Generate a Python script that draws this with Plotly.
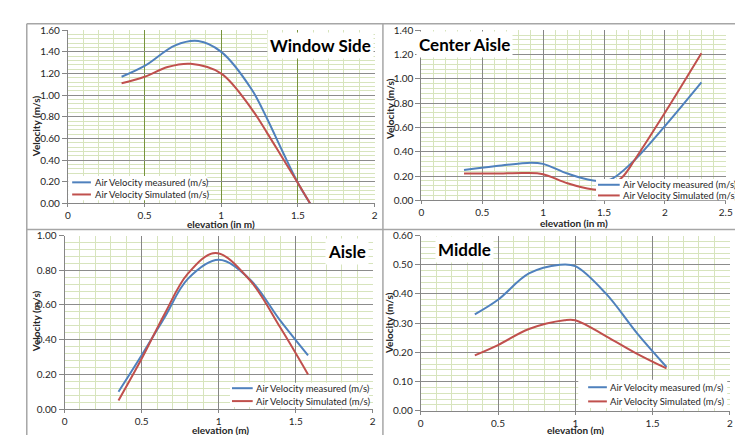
import plotly.graph_objects as go

W, H = 743, 435

# ---------------- data ----------------
ws_x_meas = [0.35, 0.5, 0.7, 0.85, 1.0, 1.2, 1.3, 1.4, 1.5, 1.58]
ws_meas = [1.17, 1.27, 1.46, 1.50, 1.40, 1.05, 0.78, 0.48, 0.19, 0.00]
ws_x_sim = [0.35, 0.5, 0.65, 0.8, 1.0, 1.2, 1.3, 1.4, 1.5, 1.58]
ws_sim = [1.11, 1.17, 1.26, 1.29, 1.20, 0.87, 0.65, 0.42, 0.19, 0.00]

ca_x_meas = [0.35, 0.6, 0.9, 1.0, 1.2, 1.4, 1.55, 1.75, 2.0, 2.3]
ca_meas = [0.25, 0.28, 0.31, 0.30, 0.22, 0.165, 0.17, 0.33, 0.61, 0.97]
ca_x_sim = [0.35, 0.6, 0.85, 1.0, 1.2, 1.4, 1.5, 1.65, 1.75, 2.0, 2.3]
ca_sim = [0.22, 0.22, 0.225, 0.215, 0.14, 0.09, 0.09, 0.19, 0.33, 0.72, 1.21]

a_x_meas = [0.35, 0.5, 0.65, 0.8, 1.0, 1.2, 1.4, 1.58]
a_meas = [0.10, 0.31, 0.53, 0.75, 0.86, 0.75, 0.51, 0.31]
a_x_sim = [0.35, 0.5, 0.65, 0.8, 0.98, 1.2, 1.4, 1.58]
a_sim = [0.05, 0.29, 0.55, 0.78, 0.90, 0.745, 0.47, 0.20]

m_x_meas = [0.35, 0.5, 0.7, 0.9, 1.0, 1.2, 1.4, 1.59]
m_meas = [0.33, 0.38, 0.47, 0.50, 0.495, 0.40, 0.265, 0.15]
m_x_sim = [0.35, 0.5, 0.7, 0.93, 1.0, 1.2, 1.4, 1.59]
m_sim = [0.19, 0.225, 0.28, 0.31, 0.31, 0.255, 0.195, 0.145]

series_names = ["Air Velocity measured (m/s)", "Air Velocity Simulated (m/s)"]
panel_titles = ["Window Side", "Center Aisle", "Aisle", "Middle"]
x_titles = ["elevation (in m)", "elevation (in m)", "elevation (m)", "elevation (m)"]
y_title = "Velocity (m/s)"

BLUE = "#4F81BD"
RED = "#C0504D"
FONT = "Lato"


def px(x):
    return x / W


def py(y):
    return 1 - y / H


panels = [
    dict(xs=(ws_x_meas, ws_x_sim), ys=(ws_meas, ws_sim), xd=(57.7, 368.5), yd=(15.7, 194.3),
         xr=2, yr=1.6, ydt=0.2, vgrid="#77933C",
         title_pos=(314, 31), xt_pos=(213, 215.5), yt_pos=(25, 115),
         leg=dict(box=(58, 166, 199, 191), rows=(172.5, 185), samp=(62, 81), tx=83)),
    dict(xs=(ca_x_meas, ca_x_sim), ys=(ca_meas, ca_sim), xd=(416, 724.5), yd=(15.7, 191),
         xr=2.5, yr=1.4, ydt=0.2, vgrid="#868686",
         title_pos=(460, 30), xt_pos=(571, 214.5), yt_pos=(383.7, 97.5),
         leg=dict(box=(593, 169, 734, 191), rows=(175, 186), samp=(595, 617), tx=618)),
    dict(xs=(a_x_meas, a_x_sim), ys=(a_meas, a_sim), xd=(54.3, 366.7), yd=(227.3, 406.3),
         xr=2, yr=1.0, ydt=0.2, vgrid="#868686",
         title_pos=(340.5, 244), xt_pos=(212.5, 428), yt_pos=(25, 316),
         leg=dict(box=(222, 379, 363, 404), rows=(384.7, 398), samp=(224, 245), tx=246)),
    dict(xs=(m_x_meas, m_x_sim), ys=(m_meas, m_sim), xd=(415.3, 728.7), yd=(227.3, 408),
         xr=2, yr=0.6, ydt=0.1, vgrid="#868686",
         title_pos=(459.5, 242), xt_pos=(572.5, 428), yt_pos=(383.7, 318),
         leg=dict(box=(575, 376, 726, 405), rows=(383.7, 398.3), samp=(585, 604), tx=605)),
]

fig = go.Figure()
layout = dict(width=W, height=H, margin=dict(l=0, r=0, t=0, b=0),
              paper_bgcolor="white", plot_bgcolor="white", showlegend=False,
              font=dict(family=FONT, size=10, color="#262626"))
shapes = []
annotations = []

for i, p in enumerate(panels):
    n = "" if i == 0 else str(i + 1)
    xa, ya = "x" + n, "y" + n
    for k, col in enumerate([BLUE, RED]):
        fig.add_trace(go.Scatter(x=p["xs"][k], y=p["ys"][k], mode="lines", name=series_names[k],
                                 line=dict(color=col, width=2, shape="spline", smoothing=1.0),
                                 xaxis=xa, yaxis=ya, hoverinfo="skip"))
    layout["xaxis" + n] = dict(
        domain=[px(p["xd"][0]), px(p["xd"][1])], range=[0, p["xr"]], anchor=ya,
        dtick=0.5, tick0=0, showgrid=True, gridcolor=p["vgrid"], gridwidth=1,
        zeroline=False, showline=True, linecolor="#868686", linewidth=1,
        ticks="outside", ticklen=3, tickcolor="#868686",
        tickfont=dict(family=FONT, size=10, color="#262626"),
        minor=dict(dtick=0.1, tick0=0, showgrid=True, gridcolor="#D7E4BD", gridwidth=1, ticks=""),
        fixedrange=True)
    layout["yaxis" + n] = dict(
        domain=[py(p["yd"][1]), py(p["yd"][0])], range=[0, p["yr"]], anchor=xa,
        dtick=p["ydt"], tick0=0, tickformat=".2f", showgrid=True, gridcolor="#8C8C8C", gridwidth=1,
        zeroline=False, showline=True, linecolor="#868686", linewidth=1,
        ticks="outside", ticklen=5, tickcolor="#868686",
        tickfont=dict(family=FONT, size=10, color="#262626"),
        minor=dict(dtick=p["ydt"] / 5, tick0=0, showgrid=True, gridcolor="#D7E4BD", gridwidth=1, ticks=""),
        fixedrange=True)

    # panel title
    annotations.append(dict(text="<b>%s</b>" % panel_titles[i], xref="paper", yref="paper",
                            x=px(p["title_pos"][0]), y=py(p["title_pos"][1]),
                            xanchor="center", yanchor="middle", showarrow=False,
                            bgcolor="white", borderpad=2,
                            font=dict(family=FONT, size=17, color="black")))
    # axis titles
    annotations.append(dict(text="<b>%s</b>" % x_titles[i], xref="paper", yref="paper",
                            x=px(p["xt_pos"][0]), y=py(p["xt_pos"][1]),
                            xanchor="center", yanchor="middle", showarrow=False,
                            font=dict(family=FONT, size=10, color="#262626")))
    annotations.append(dict(text="<b>%s</b>" % y_title, xref="paper", yref="paper",
                            x=px(p["yt_pos"][0]), y=py(p["yt_pos"][1]), textangle=-90,
                            xanchor="center", yanchor="middle", showarrow=False,
                            font=dict(family=FONT, size=10, color="#262626")))
    # legend
    lg = p["leg"]
    b = lg["box"]
    shapes.append(dict(type="rect", xref="paper", yref="paper", layer="above",
                       x0=px(b[0]), x1=px(b[2]), y0=py(b[3]), y1=py(b[1]),
                       fillcolor="white", line=dict(width=0)))
    for k, col in enumerate([BLUE, RED]):
        yy = lg["rows"][k]
        shapes.append(dict(type="line", xref="paper", yref="paper", layer="above",
                           x0=px(lg["samp"][0]), x1=px(lg["samp"][1]), y0=py(yy), y1=py(yy),
                           line=dict(color=col, width=2)))
        annotations.append(dict(text=series_names[k], xref="paper", yref="paper",
                                x=px(lg["tx"]), y=py(yy), xanchor="left", yanchor="middle",
                                showarrow=False,
                                font=dict(family=FONT, size=9.5, color="#262626")))

# chart-area borders
BC = "#A6A6A6"
for xv in (16, 377, 738):
    shapes.append(dict(type="line", xref="paper", yref="paper", x0=px(xv), x1=px(xv),
                       y0=py(9), y1=py(435), line=dict(color=BC, width=1.5)))
for yv in (9, 221):
    shapes.append(dict(type="line", xref="paper", yref="paper", x0=px(16), x1=px(738),
                       y0=py(yv), y1=py(yv), line=dict(color=BC, width=1.5)))

layout["shapes"] = shapes
layout["annotations"] = annotations
fig.update_layout(**layout)
fig.write_html("out.html")
